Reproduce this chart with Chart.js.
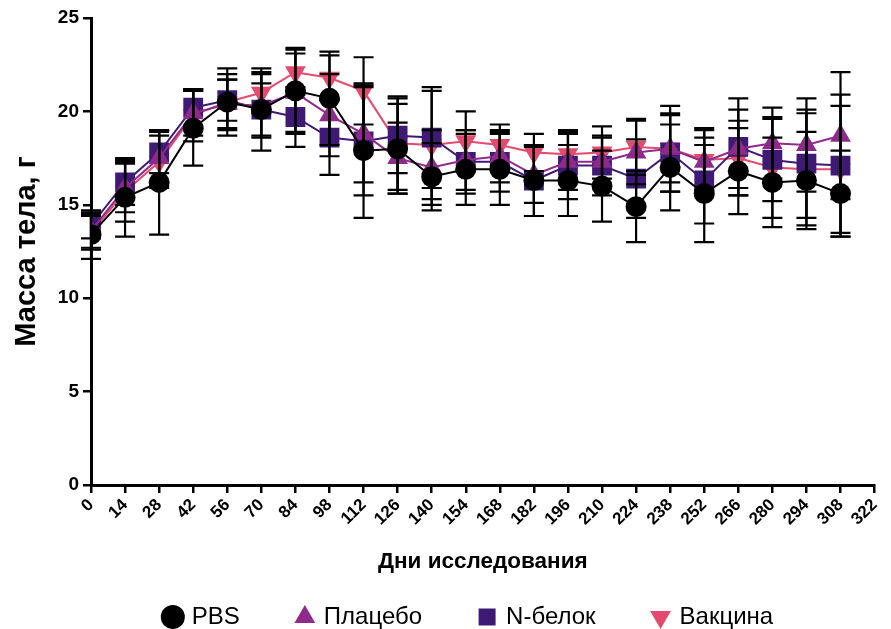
<!DOCTYPE html>
<html>
<head>
<meta charset="utf-8">
<script src="https://cdn.jsdelivr.net/npm/chart.js@4.4.1/dist/chart.umd.min.js"></script>
<style>
  html, body { margin: 0; padding: 0; background: #fff; }
  #wrap { width: 891px; height: 629px; position: relative; }
</style>
</head>
<body>
<div id="wrap"><canvas id="chart" width="891" height="629"></canvas></div>
<script>
  // Study days (x) and tick labels
  const days = [0, 14, 28, 42, 56, 70, 84, 98, 112, 126, 140, 154, 168, 182, 196, 210, 224, 238, 252, 266, 280, 294, 308];
  const xTickLabels = [0, 14, 28, 42, 56, 70, 84, 98, 112, 126, 140, 154, 168, 182, 196, 210, 224, 238, 252, 266, 280, 294, 308, 322];
  const yTickLabels = [0, 5, 10, 15, 20, 25];

  // Body mass, g (mean) and error (SD)
  const pbs      = [13.4, 15.4, 16.2, 19.1, 20.5, 20.1, 21.1, 20.7, 17.9, 18.0, 16.5, 16.9, 16.9, 16.3, 16.3, 16.0, 14.9, 17.0, 15.6, 16.8, 16.2, 16.3, 15.6];
  const pbsErr   = [1.3, 2.1, 2.8, 2.0, 1.8, 2.2, 2.3, 2.5, 3.6, 2.4, 1.8, 1.9, 1.9, 1.9, 1.9, 1.9, 1.9, 2.3, 2.6, 2.3, 2.4, 2.6, 2.3];
  const placebo    = [13.6, 15.9, 17.5, 19.9, 20.4, 20.3, 21.0, 19.8, 18.8, 17.5, 17.0, 17.4, 17.6, 16.6, 17.3, 17.3, 17.8, 18.0, 17.3, 18.0, 18.3, 18.2, 18.7];
  const placeboErr = [0.9, 1.3, 1.5, 1.2, 1.3, 1.7, 2.1, 2.2, 2.6, 1.9, 2.0, 1.6, 1.4, 1.5, 1.5, 1.3, 1.7, 1.8, 1.8, 2.1, 1.9, 2.5, 3.4];
  const nProtein    = [13.9, 16.2, 17.8, 20.2, 20.6, 20.1, 19.7, 18.6, 18.4, 18.7, 18.6, 17.3, 17.3, 16.3, 17.1, 17.1, 16.4, 17.8, 16.3, 18.1, 17.4, 17.2, 17.1];
  const nProteinErr = [0.7, 1.2, 1.1, 1.0, 1.1, 1.4, 1.6, 2.0, 2.9, 2.0, 2.7, 1.7, 1.6, 1.9, 1.8, 1.6, 2.1, 2.1, 2.3, 2.6, 2.2, 2.9, 3.8];
  const vaccine    = [13.5, 15.7, 17.3, 19.8, 20.5, 21.0, 22.1, 21.8, 21.1, 18.3, 18.2, 18.4, 18.2, 17.8, 17.7, 17.8, 18.1, 18.0, 17.4, 17.5, 17.0, 16.9, 16.9];
  const vaccineErr = [0.9, 1.6, 1.4, 1.4, 1.5, 1.1, 1.2, 1.2, 1.8, 2.5, 2.9, 1.6, 1.1, 1.0, 1.3, 1.4, 1.5, 2.3, 1.6, 2.0, 2.7, 3.0, 3.4];

  const FONT = "'Liberation Sans', Arial, sans-serif";

  const toPoints = (ys) => days.map((d, i) => ({ x: d, y: ys[i] }));

  function series(label, ys, errs, color, style, radius, rotation) {
    return {
      label: label,
      data: toPoints(ys),
      errors: errs,
      borderColor: color,
      backgroundColor: color,
      borderWidth: 2,
      pointStyle: style,
      pointRadius: radius,
      pointHoverRadius: radius,
      pointRotation: rotation || 0,
      pointBorderWidth: 0,
      pointBackgroundColor: color,
      tension: 0
    };
  }

  // Vertical error bars with caps, drawn over the markers
  const errorBars = {
    id: "errorBars",
    afterDatasetsDraw(chart) {
      const ctx = chart.ctx;
      const xs = chart.scales.x, ys = chart.scales.y;
      ctx.save();
      ctx.strokeStyle = "#000";
      ctx.lineWidth = 2.2;
      chart.data.datasets.forEach((ds) => {
        ds.data.forEach((p, i) => {
          const e = ds.errors[i];
          const px = xs.getPixelForValue(p.x);
          const top = ys.getPixelForValue(p.y + e);
          const bot = ys.getPixelForValue(p.y - e);
          ctx.beginPath();
          ctx.moveTo(px, top); ctx.lineTo(px, bot);
          ctx.moveTo(px - 10, top); ctx.lineTo(px + 10, top);
          ctx.moveTo(px - 10, bot); ctx.lineTo(px + 10, bot);
          ctx.stroke();
        });
      });
      ctx.restore();
    }
  };

  // nudge the legend a bit to the right, as in the original figure
  const legendShift = {
    id: "legendShift",
    afterLayout(chart) {
      chart.legend.left += 30;
      chart.legend.right += 30;
    }
  };

  new Chart(document.getElementById("chart"), {
    type: "line",
    data: {
      datasets: [
        series("PBS", pbs, pbsErr, "#000000", "circle", 10.5),
        series("Плацебо", placebo, placeboErr, "#8E2B8A", "triangle", 12),
        series("N-белок", nProtein, nProteinErr, "#3F1A75", "rect", 14),
        series("Вакцина", vaccine, vaccineErr, "#E34A6E", "triangle", 12, 180)
      ]
    },
    plugins: [errorBars, legendShift],
    options: {
      responsive: false,
      animation: false,
      layout: { padding: { top: 18, right: 12, left: 0, bottom: -10 } },
      plugins: {
        tooltip: { enabled: false },
        legend: {
          position: "bottom",
          labels: {
            usePointStyle: true,
            boxHeight: 17,
            boxWidth: 14,
            padding: 58,
            color: "#000",
            font: { family: FONT, size: 24 }
          }
        }
      },
      scales: {
        x: {
          type: "linear",
          min: 0,
          max: 322,
          afterBuildTicks: (scale) => { scale.ticks = xTickLabels.map((v) => ({ value: v })); },
          afterFit: (scale) => { scale.height = 62; },
          border: { color: "#000", width: 3 },
          grid: { drawOnChartArea: false, drawTicks: true, tickLength: 8, color: "#000", lineWidth: 2.5 },
          ticks: {
            minRotation: 45,
            maxRotation: 45,
            autoSkip: false,
            padding: 2,
            color: "#000",
            font: { family: FONT, size: 17, weight: "bold" }
          },
          title: {
            display: true,
            text: "Дни исследования",
            color: "#000",
            padding: { top: 10, bottom: -28 },
            font: { family: FONT, size: 22.5, weight: "bold" }
          }
        },
        y: {
          min: 0,
          max: 25,
          afterBuildTicks: (scale) => { scale.ticks = yTickLabels.map((v) => ({ value: v })); },
          afterFit: (scale) => { scale.width = 91; },
          border: { color: "#000", width: 3 },
          grid: { drawOnChartArea: false, drawTicks: true, tickLength: 8, color: "#000", lineWidth: 2.5 },
          ticks: {
            padding: 4,
            color: "#000",
            font: { family: FONT, size: 19, weight: "bold" }
          },
          title: {
            display: true,
            text: "Масса тела, г",
            color: "#000",
            padding: { top: 10, bottom: 10 },
            font: { family: FONT, size: 29, weight: "bold" }
          }
        }
      }
    }
  });
</script>
</body>
</html>
